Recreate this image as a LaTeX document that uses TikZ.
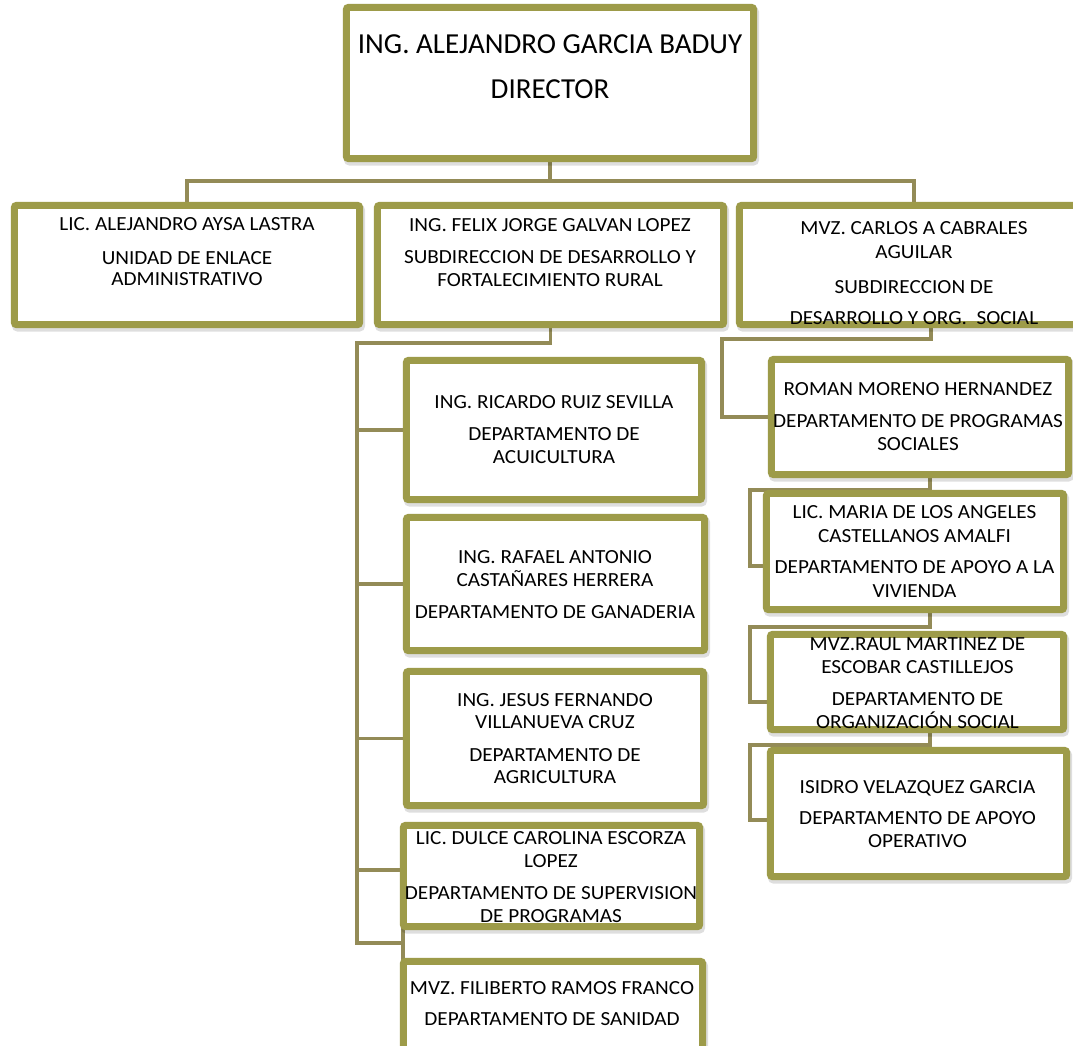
\documentclass[tikz,border=0pt]{standalone}
\usepackage{fontspec}
\setmainfont{Carlito}
\newfontfamily\boxfont[FakeStretch=1.06]{Carlito}
\definecolor{boxc}{RGB}{157,155,73}
\definecolor{connc}{RGB}{147,139,87}
\newcommand{\mylines}[3]{%
  \foreach \yy/\tx [count=\i] in {#3} {\node[btext] (#1-\i) at (#2,\yy) {\tx};}}
\begin{document}
\begin{tikzpicture}[x=1pt,y=-1pt,
  obox/.style={draw=boxc, line width=7pt, fill=white, rounded corners=2.5pt, inner sep=0pt,
    preaction={draw=black, opacity=0.13, line width=8pt, transform canvas={shift={(1.5pt,-3pt)}}}},
  conn/.style={draw=connc, line width=3.8pt},
  btext/.style={anchor=base, inner sep=0pt, font=\boxfont\fontsize{20}{24}\selectfont},
  dtext/.style={anchor=base, inner sep=0pt, font=\fontsize{29}{34}\selectfont}]
\clip (0,0) rectangle (1073,1045);
\fill[white] (0,0) rectangle (1073,1045);

\coordinate (hub) at (550,181);
\coordinate (tr) at (357,343);

% box positions (drawn after connectors)
\path (550,83) node[minimum width=407pt, minimum height=151pt, inner sep=0pt] (dir) {};
\path (187,265) node[minimum width=345pt, minimum height=119pt, inner sep=0pt] (A) {};
\path (550.5,265) node[minimum width=346pt, minimum height=119pt, inner sep=0pt] (B) {};
\path (914,265) node[minimum width=349pt, minimum height=119pt, inner sep=0pt] (C) {};
\path (554,430) node[minimum width=295pt, minimum height=139pt, inner sep=0pt] (Acu) {};
\path (555.5,584) node[minimum width=298pt, minimum height=133pt, inner sep=0pt] (Gan) {};
\path (555,738.5) node[minimum width=297pt, minimum height=134pt, inner sep=0pt] (Agr) {};
\path (551.5,876) node[minimum width=296pt, minimum height=101pt, inner sep=0pt] (Dul) {};
\path (553,1024) node[minimum width=299pt, minimum height=125pt, inner sep=0pt] (San) {};
\path (920,417) node[minimum width=297pt, minimum height=115pt, inner sep=0pt] (Rom) {};
\path (915,551.5) node[minimum width=297pt, minimum height=116pt, inner sep=0pt] (Mar) {};
\path (917,682) node[minimum width=293pt, minimum height=95pt, inner sep=0pt] (Rau) {};
\path (918.5,813.5) node[minimum width=296pt, minimum height=126pt, inner sep=0pt] (Isi) {};

% connectors
\draw[conn] (dir.south) -- (hub);
\draw[conn] (A.north) |- (hub) -| (C.north);
\draw[conn] (B.south) |- (tr) -- (tr |- 0,943) -- (San.west |- 0,943);
\foreach \n in {Acu,Gan,Agr} \draw[conn] (\n.west -| tr) -- (\n.west);
\draw[conn] (357,870) -- ([yshift=6pt]Dul.west) -- (San.west);
\draw[conn] ([xshift=17pt]C.south) -- ++(0,14) -| (722,417) -- (Rom.west);
\draw[conn] ([xshift=10pt]Rom.south) -- ++(0,15) -| (750,566) -- ([yshift=-14.5pt]Mar.west);
\draw[conn] ([xshift=15pt]Mar.south) -- ++(0,17) -| (750,702) -- ([yshift=-20pt]Rau.west);
\draw[conn] ([xshift=13pt]Rau.south) -- ++(0,15) -| (750,820) -- ([yshift=-6.5pt]Isi.west);

% boxes
\foreach \n in {dir,A,B,C,Acu,Gan,Agr,Dul,San,Rom,Mar,Rau,Isi}
  \draw[obox] (\n.north west) rectangle (\n.south east);

% texts
\node[dtext] (dir-1) at (550,53) {ING. ALEJANDRO GARCIA BADUY};
\node[dtext] (dir-2) at (550,98) {DIRECTOR};
\mylines{A}{187}{230/LIC. ALEJANDRO AYSA LASTRA, 264/UNIDAD DE ENLACE, 285/ADMINISTRATIVO}
\mylines{B}{550}{231/ING. FELIX JORGE GALVAN LOPEZ, 263/SUBDIRECCION DE DESARROLLO Y, 286/FORTALECIMIENTO RURAL}
\mylines{C}{914}{234/MVZ. CARLOS A CABRALES, 258/AGUILAR, 293/SUBDIRECCION DE, 324/DESARROLLO Y ORG.\ \ SOCIAL}
\mylines{Acu}{554}{408/ING. RICARDO RUIZ SEVILLA, 440/DEPARTAMENTO DE, 463/ACUICULTURA}
\mylines{Gan}{555}{563/ING. RAFAEL ANTONIO, 586/CASTAÑARES HERRERA, 618/DEPARTAMENTO DE GANADERIA}
\mylines{Agr}{555}{706/ING. JESUS FERNANDO, 728/VILLANUEVA CRUZ, 761/DEPARTAMENTO DE, 783/AGRICULTURA}
\mylines{Dul}{551}{844/LIC. DULCE CAROLINA ESCORZA, 867/LOPEZ, 899/DEPARTAMENTO DE SUPERVISION, 922/DE PROGRAMAS}
\mylines{San}{552}{994/MVZ. FILIBERTO RAMOS FRANCO, 1025/DEPARTAMENTO DE SANIDAD}
\mylines{Rom}{918}{395/ROMAN MORENO HERNANDEZ, 427/DEPARTAMENTO DE PROGRAMAS, 450/SOCIALES}
\mylines{Mar}{914.5}{518/LIC. MARIA DE LOS ANGELES, 542/CASTELLANOS AMALFI, 573/DEPARTAMENTO DE APOYO A LA, 597/VIVIENDA}
\mylines{Rau}{917.5}{650/MVZ.RAUL MARTINEZ DE, 673/ESCOBAR CASTILLEJOS, 705/DEPARTAMENTO DE, 728/ORGANIZACIÓN SOCIAL}
\mylines{Isi}{917.5}{793/ISIDRO VELAZQUEZ GARCIA, 824/DEPARTAMENTO DE APOYO, 847/OPERATIVO}
\end{tikzpicture}
\end{document}
